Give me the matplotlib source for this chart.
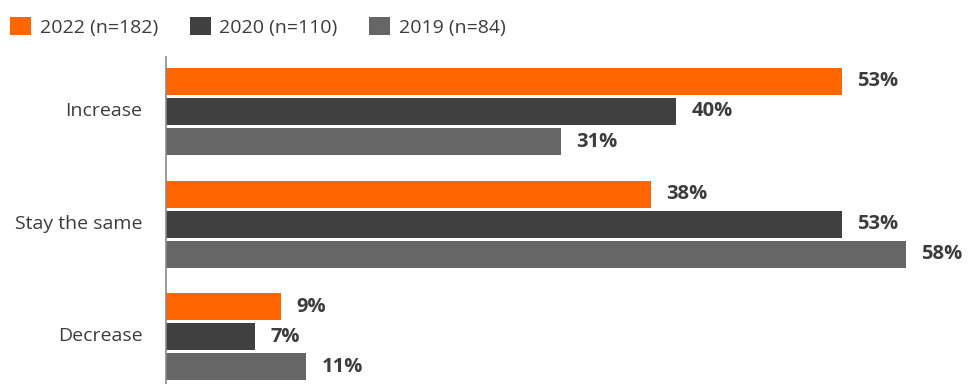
import matplotlib
matplotlib.use("Agg")
import matplotlib.pyplot as plt
import matplotlib.transforms as mtransforms
from matplotlib.patches import Patch
import numpy as np

plt.rcParams['font.family'] = ['Open Sans', 'DejaVu Sans']

# data
categories = ["Increase", "Stay the same", "Decrease"]
series_names = ["2022 (n=182)", "2020 (n=110)", "2019 (n=84)"]
values_2022 = [53, 38, 9]
values_2020 = [40, 53, 7]
values_2019 = [31, 58, 11]

colors = ["#FF6600", "#404040", "#666666"]
text_color = "#3c3c3c"

fig = plt.figure(figsize=(9.72, 3.84), dpi=100)
ax = fig.add_axes([166 / 972, 0.0, 806 / 972, 327 / 384])

y = np.arange(len(categories))
step = 30 / 112.5
bar_h = 27 / 112.5
offsets = [-step, 0, step]

for vals, off, col in zip([values_2022, values_2020, values_2019], offsets, colors):
    bars = ax.barh(y + off, vals, height=bar_h, color=col, edgecolor='none')
    for b, v in zip(bars, vals):
        ax.annotate(f"{v}%", xy=(b.get_width(), b.get_y() + b.get_height() / 2),
                    xytext=(11, 0), textcoords='offset points',
                    ha='left', va='center', fontsize=14.5, fontweight='bold',
                    color=text_color)

ax.set_xlim(0, 806 / 12.75)
ax.set_ylim(2.42, -0.484)
ax.set_yticks(y)
ax.set_yticklabels(categories, fontsize=14, color=text_color)
ax.tick_params(axis='y', length=0, pad=17)
ax.set_xticks([])

# nudge category labels up a touch
shift = mtransforms.ScaledTranslation(0, 2.5 / 100, fig.dpi_scale_trans)
for lbl in ax.get_yticklabels():
    lbl.set_transform(lbl.get_transform() + shift)

for side in ['top', 'right', 'bottom']:
    ax.spines[side].set_visible(False)
ax.spines['left'].set_color('#8a8a8a')
ax.spines['left'].set_linewidth(1.2)

handles = [Patch(facecolor=c, edgecolor='none') for c in colors]
fig.legend(handles, series_names, loc='upper left', bbox_to_anchor=(0.5 / 972, 1 - 7 / 384),
           ncol=3, frameon=False, fontsize=14, labelcolor=text_color,
           handlelength=1.08, handleheight=1.08, handletextpad=0.46,
           columnspacing=1.6, borderpad=0.0)

fig.savefig("out.png", dpi=100)
